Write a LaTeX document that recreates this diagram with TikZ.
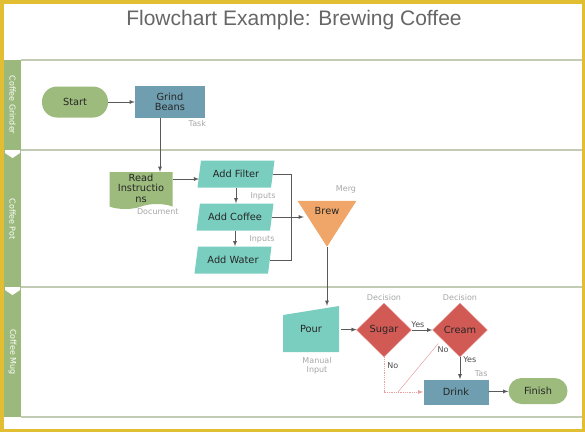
\documentclass[tikz,border=0pt]{standalone}
\usepackage{fontspec}
\setmainfont{DejaVu Sans}
\newfontfamily\titlefont{Liberation Sans}
\usetikzlibrary{positioning,calc,shapes.geometric,shapes.symbols,arrows}

\definecolor{framegold}{HTML}{E1BE32}
\definecolor{lanegreen}{HTML}{9BB97D}
\definecolor{laneline}{HTML}{C2CCB5}
\definecolor{titlegray}{HTML}{666666}
\definecolor{termgreen}{HTML}{9DBB7D}
\definecolor{taskblue}{HTML}{6E9EAF}
\definecolor{inputteal}{HTML}{7ACEC0}
\definecolor{mergeorange}{HTML}{F0A668}
\definecolor{decisionred}{HTML}{D25A55}
\definecolor{nopink}{HTML}{E8A0A0}
\definecolor{notegray}{HTML}{A6A6A6}
\definecolor{arrowgray}{HTML}{5A5A5A}

\tikzset{
  base/.style={ % common look of the flowchart shapes
    font=\fontsize{9.8}{10.5}\selectfont, text=black!85,
    inner sep=1pt, align=center
  },
  terminal/.style={ % image of a start / end node
    base, rectangle, fill=termgreen,
    minimum width=66pt, minimum height=31pt, rounded corners=15pt
  },
  task/.style={ % image of a task box
    base, rectangle, fill=taskblue,
    minimum width=70pt, minimum height=32pt
  },
  document/.style={ % image of a document, wavy bottom edge
    base, tape, tape bend top=none, fill=termgreen,
    minimum width=63pt, minimum height=37pt
  },
  inputbox/.style={ % image of an input (parallelogram)
    base, trapezium, trapezium left angle=70, trapezium right angle=110,
    trapezium stretches body, fill=inputteal,
    minimum width=77pt, minimum height=27pt
  },
  merge/.style={ % image of a merge, triangle pointing down
    base, isosceles triangle, shape border rotate=270,
    isosceles triangle stretches, fill=mergeorange,
    minimum width=59pt, minimum height=46pt
  },
  manual/.style={ % image of a manual input, sloped top edge
    base, rectangle, minimum width=56pt, minimum height=46pt,
    path picture = {
      \fill[inputteal]
      (path picture bounding box.south west) --
      (path picture bounding box.south east) --
      (path picture bounding box.north east) --
      ([yshift=-9pt]path picture bounding box.north west) -- cycle;
    }
  },
  decision/.style={ % image of a decision diamond
    base, diamond, fill=decisionred, draw=nopink, thin,
    minimum width=55pt, minimum height=54pt, inner sep=0pt
  },
  note/.style={font=\fontsize{8}{9}\selectfont, text=notegray, inner sep=1pt, align=center},
  answer/.style={font=\fontsize{8}{9}\selectfont, text=black!70, inner sep=1pt},
  lanelabel/.style={font=\fontsize{8}{9}\selectfont, text=white, rotate=-90, inner sep=0pt},
  flow/.style={-latex, arrowgray, line width=0.8pt},
  link/.style={arrowgray, line width=0.8pt},
  nopath/.style={nopink, line width=0.8pt}
}

\begin{document}
\begin{tikzpicture}[x=1pt, y=-1pt]
    \useasboundingbox (0,0) rectangle (585,432);

    % frame, title and swim lanes
    \draw[framegold, line width=3.5pt] (1.75,1.75) rectangle (583.25,430.25);
    \node[font=\titlefont\fontsize{21}{24}\selectfont, text=titlegray] (title) at (294,20) {Flowchart Example: Brewing Coffee};
    \fill[lanegreen] (4,60) rectangle (21,417);
    \foreach \y in {60,150,287,417}
      \draw[laneline, line width=1.2pt] (21,\y) -- (582,\y);
    \foreach \y in {150,287}
      \fill[white] (5,\y) -- (20,\y) -- (20,\y+3) -- (12.5,\y+8) -- (5,\y+3) -- cycle;
    \node[lanelabel] (lane_grinder) at (12.5,105) {Coffee Grinder};
    \node[lanelabel] (lane_pot) at (12.5,219) {Coffee Pot};
    \node[lanelabel] (lane_mug) at (12.5,352) {Coffee Mug};

    % shapes
    \node[terminal] (start) at (75,102) {Start};
    \node[task] (grind) at (170,102) {Grind\\Beans};
    \node[document] (read) at (141,188) {Read\\Instructio\\ns};
    \node[inputbox] (filter) at (236,174) {Add Filter};
    \node[inputbox] (coffee) at (235,217) {Add Coffee};
    \node[inputbox] (water) at (233,260) {Add Water};
    \node[merge] (brew) at (327,211) {Brew};
    \node[manual] (pour) at (311,329) {Pour};
    \node[decision] (sugar) at (384,330) {Sugar};
    \node[decision] (cream) at (460,330) {Cream};
    \node[task, minimum width=65pt, minimum height=25pt] (drink) at (456,392) {Drink};
    \node[terminal, minimum width=59pt, minimum height=26pt, rounded corners=13pt] (finish) at (538,391) {Finish};

    % type labels
    \node[note, below left=1pt and -2pt of grind.south east] (grind_label) {Task};
    \node[note, below left=3pt and -7pt of read.south east] (read_label) {Document};
    \node[note] (filter_label) at (263,196) {Inputs};
    \node[note] (coffee_label) at (262,239) {Inputs};
    \node[note] (brew_label) at (346,189) {Merg};
    \node[note] (pour_label) at (317,366) {Manual\\Input};
    \node[note, above=1pt of sugar] (sugar_label) {Decision};
    \node[note, above=1pt of cream] (cream_label) {Decision};
    \node[note, above left=1pt and 0pt of drink.north east] (drink_label) {Tas};

    % connectors
    \draw[flow] (start) -- (grind);
    \draw[flow] ([xshift=-10pt]grind.south) -- ([xshift=-10pt]grind.south |- read.north);
    \draw[flow] ([yshift=9pt]read.east) -- ([yshift=9pt]read.east -| filter.west);
    \draw[flow] (filter.south) -- (filter.south |- coffee.north);
    \draw[flow] (coffee.south) -- (coffee.south |- water.north);
    \draw[link] (filter.east) -- ++(18pt,0) |- (water.east);
    \draw[flow] (coffee.east) -- (coffee.east -| brew.west);
    \draw[flow] (brew.south) -- (brew.south |- pour.north);
    \draw[flow, shorten <=2pt] (pour) -- (sugar);
    \draw[flow] (sugar) -- node[answer, pos=0.3, above=1pt] {Yes} (cream);
    \draw[flow] (cream.south) -- node[answer, pos=0.1, right=2pt] {Yes} (cream.south |- drink.north);
    \draw[flow] (drink) -- (finish);
    \coordinate (nojoin) at ($(sugar.south |- drink.west)+(14pt,0)$);
    \draw[nopath, densely dotted, -latex] (sugar.south) |- node[answer, pos=0.12, right=2pt] {No} (drink.west);
    \draw[nopath, line width=0.5pt] ([xshift=-8pt]cream.south west) -- node[answer, pos=0.12, right=3pt] {No} (nojoin);
\end{tikzpicture}
\end{document}
